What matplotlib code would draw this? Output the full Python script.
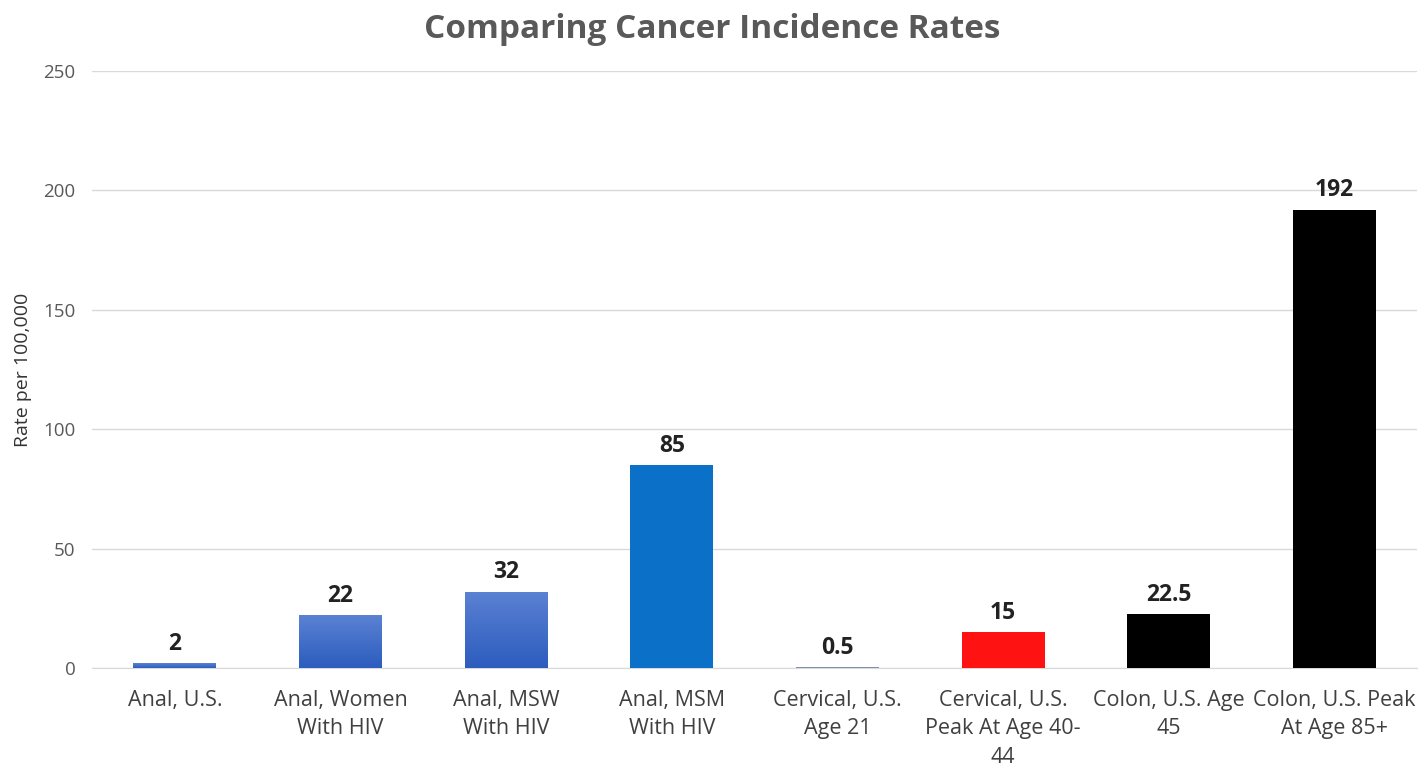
import matplotlib.pyplot as plt
import numpy as np
from matplotlib.colors import LinearSegmentedColormap

plt.rcParams['font.family'] = ['Open Sans', 'DejaVu Sans']

categories = ["Anal, U.S.", "Anal, Women\nWith HIV", "Anal, MSW\nWith HIV", "Anal, MSM\nWith HIV",
              "Cervical, U.S.\nAge 21", "Cervical, U.S.\nPeak At Age 40-\n44",
              "Colon, U.S. Age\n45", "Colon, U.S. Peak\nAt Age 85+"]
rates = [2, 22, 32, 85, 0.5, 15, 22.5, 192]
labels = ["2", "22", "32", "85", "0.5", "15", "22.5", "192"]
colors = ["#3D6BC9", "#3D6BC9", "#3D6BC9", "#0B70C8", "#7F8FB5", "#FF1212", "#000000", "#000000"]
gradient = [True, True, True, False, False, False, False, False]

fig = plt.figure(figsize=(14.25, 7.72), dpi=100)
ax = fig.add_axes([0.0646, 0.1347, 0.93, 0.7733])

x = np.arange(len(categories))
bars = ax.bar(x, rates, width=0.5, color=colors, zorder=3)

# gradient fill for the first three bars
grad = np.linspace(0, 1, 256).reshape(-1, 1)
cmap = LinearSegmentedColormap.from_list("g", ["#2C5CBE", "#5B82D3"])
for b, g in zip(bars, gradient):
    if g:
        x0, y0 = b.get_x(), b.get_y()
        im = ax.imshow(grad, cmap=cmap, origin="lower", aspect="auto",
                       extent=[x0, x0 + b.get_width(), y0, y0 + b.get_height()], zorder=4)
        im.set_clip_path(b)

for xi, v, t in zip(x, rates, labels):
    ax.text(xi, v + 3, t, ha="center", va="bottom", fontsize=16.5, fontweight="bold", color="#222222")

ax.set_xlim(-0.5, len(categories) - 0.5)
ax.set_ylim(0, 250)
ax.set_yticks([0, 50, 100, 150, 200, 250])
ax.set_xticks(x)
ax.set_xticklabels(categories, fontsize=15.5, color="#404040", linespacing=1.45)
ax.tick_params(axis="y", labelsize=13.5, colors="#595959", length=0, pad=12)
ax.tick_params(axis="x", length=0, pad=16)
ax.grid(axis="y", color="#D9D9D9", linewidth=1, zorder=0)
for s in ["top", "right", "left"]:
    ax.spines[s].set_visible(False)
ax.spines["bottom"].set_color("#D9D9D9")
ax.set_ylabel("Rate per 100,000", fontsize=14, color="#333333")
ax.yaxis.set_label_coords(-0.045, 0.5)
fig.suptitle("Comparing Cancer Incidence Rates", x=0.5, y=0.983, va="top",
             fontsize=24, fontweight="bold", color="#595959")

fig.savefig("out.png", dpi=100)
